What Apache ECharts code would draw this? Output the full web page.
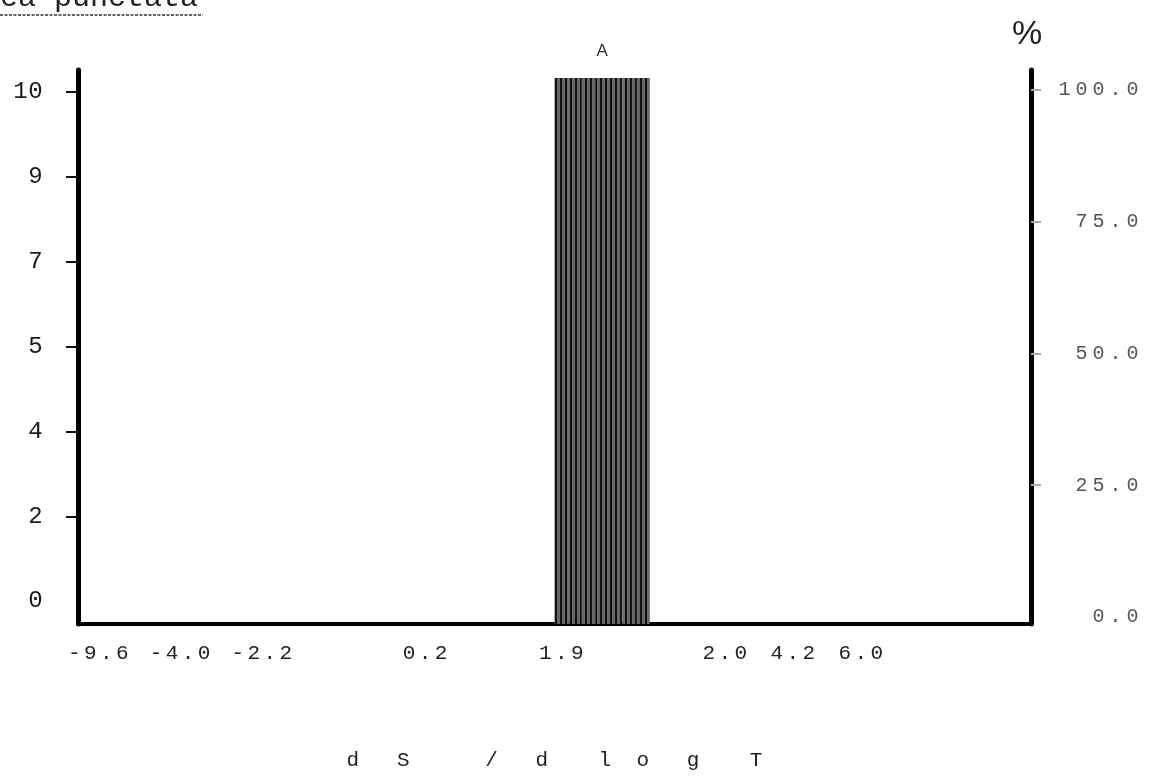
<!DOCTYPE html>
<html><head><meta charset="utf-8">
<script src="https://cdn.jsdelivr.net/npm/echarts@6/dist/echarts.min.js"></script>
<style>html,body{margin:0;padding:0;background:#fff}#c{width:1149px;height:776px}</style>
</head><body><div id="c"></div>
<script>
// x categories (class slots); only some carry a printed label
const categories = [
  '','-9.6','','','','','','-4.0','','',
  '','','','-2.2','','','','','','',
  '','','','','','0.2','','','','',
  '','','','','','1.9','','','','',
  '','','','','','','','2.0','','',
  '','','4.2','','','','','6.0','','',
  '','','','','','','','','',''
];
// bar heights (%)
const barValues = [
  0,0,0,0,0,0,0,0,0,0,
  0,0,0,0,0,0,0,0,0,0,
  0,0,0,0,0,0,0,0,0,0,
  0,0,0,0,0,102.5,102.5,102.5,102.5,102.5,
  102.5,102.5,0,0,0,0,0,0,0,0,
  0,0,0,0,0,0,0,0,0,0,
  0,0,0,0,0,0,0,0,0,0
];
const barTitle = 'A';
const leftLabels = ['0','2','4','5','7','9','10'];
const leftLabelIdx = [0,1,2,3,4,5,6];
const leftTickIdx = [1,2,3,4,5,6];
const rightLabels = [0,25,50,75,100];
const rightTicks = [25,50,75,100];
const pageTitle = 'ea punctata';
const unitText = '%';
const xName = 'd   S      /   d    l  o   g    T';

const nz = barValues.map((v,i)=>v>0?i:-1).filter(i=>i>=0);
const mid = nz[Math.floor(nz.length/2)];
const mono = '"Liberation Mono", monospace';
// typewriter-like letter spacing via rich text boxes (characters unchanged)
const spaced = s => String(s).split('').map(ch => '{c|' + ch + '}').join('');

const chart = echarts.init(document.getElementById('c'), null, {renderer:'canvas'});
chart.setOption({
  animation:false,
  backgroundColor:'#ffffff',
  grid:{left:78,right:118,top:70,bottom:148,containLabel:false},
  xAxis:{
    type:'category', data:categories, boundaryGap:true,
    axisLine:{onZero:false,lineStyle:{color:'#000',width:4}},
    axisTick:{show:false},
    axisLabel:{interval:0,margin:19,formatter:v=>v?spaced(v):'',
      rich:{c:{width:16,align:'center',fontFamily:mono,fontSize:21,color:'#222'}}},
    splitLine:{show:false},
    name:xName, nameLocation:'middle', nameGap:126,
    nameTextStyle:{fontFamily:mono,fontSize:21,color:'#222'}
  },
  yAxis:[
    {type:'value',position:'left',min:-0.27,max:6.26,
     axisLine:{show:true,onZero:false,lineStyle:{color:'#000',width:5}},
     axisTick:{show:true,customValues:leftTickIdx,length:12,lineStyle:{color:'#111',width:2}},
     axisLabel:{customValues:leftLabelIdx,formatter:v=>spaced(leftLabels[Math.round(v)]),margin:35,
       rich:{c:{width:15,align:'center',fontFamily:mono,fontSize:24,color:'#1a1a1a'}}},
     splitLine:{show:false}},
    {type:'value',position:'right',min:-1.3,max:103.7,
     axisLine:{show:true,onZero:false,lineStyle:{color:'#000',width:5}},
     axisTick:{show:true,customValues:rightTicks,length:10,lineStyle:{color:'#aaa',width:2}},
     axisLabel:{customValues:rightLabels,formatter:v=>spaced(Number(v).toFixed(1)),align:'right',margin:110,
       rich:{c:{width:17,align:'center',fontFamily:mono,fontSize:20,color:'#555'}}},
     splitLine:{show:false}},
    {type:'value',position:'right',min:0,max:104,show:false,splitLine:{show:false}}
  ],
  series:[{
    type:'bar', xAxisIndex:0, yAxisIndex:2, barCategoryGap:'0%', barGap:'0%',
    data:barValues.map((v,i)=>i===mid?{value:v,label:{show:true,formatter:barTitle,position:'top',distance:18,
      color:'#333',fontSize:17,fontFamily:'"Liberation Sans", sans-serif'}}:v),
    itemStyle:{color:'#666666',
      decal:{symbol:'rect',symbolSize:1,color:'#111111',dashArrayX:[1.5,2.5],dashArrayY:[8,0],rotation:0}}
  }],
  graphic:[
    {type:'text',left:0,top:-17,style:{text:pageTitle,font:'30px "Liberation Mono", monospace',fill:'#222'}},
    {type:'line',shape:{x1:0,y1:15,x2:203,y2:15},style:{stroke:'#333',lineWidth:1.5,lineDash:[3,1.5]}},
    {type:'text',left:1012,top:18,style:{text:unitText,font:'34px "Liberation Sans", sans-serif',fill:'#222'}}
  ]
});
</script></body></html>
